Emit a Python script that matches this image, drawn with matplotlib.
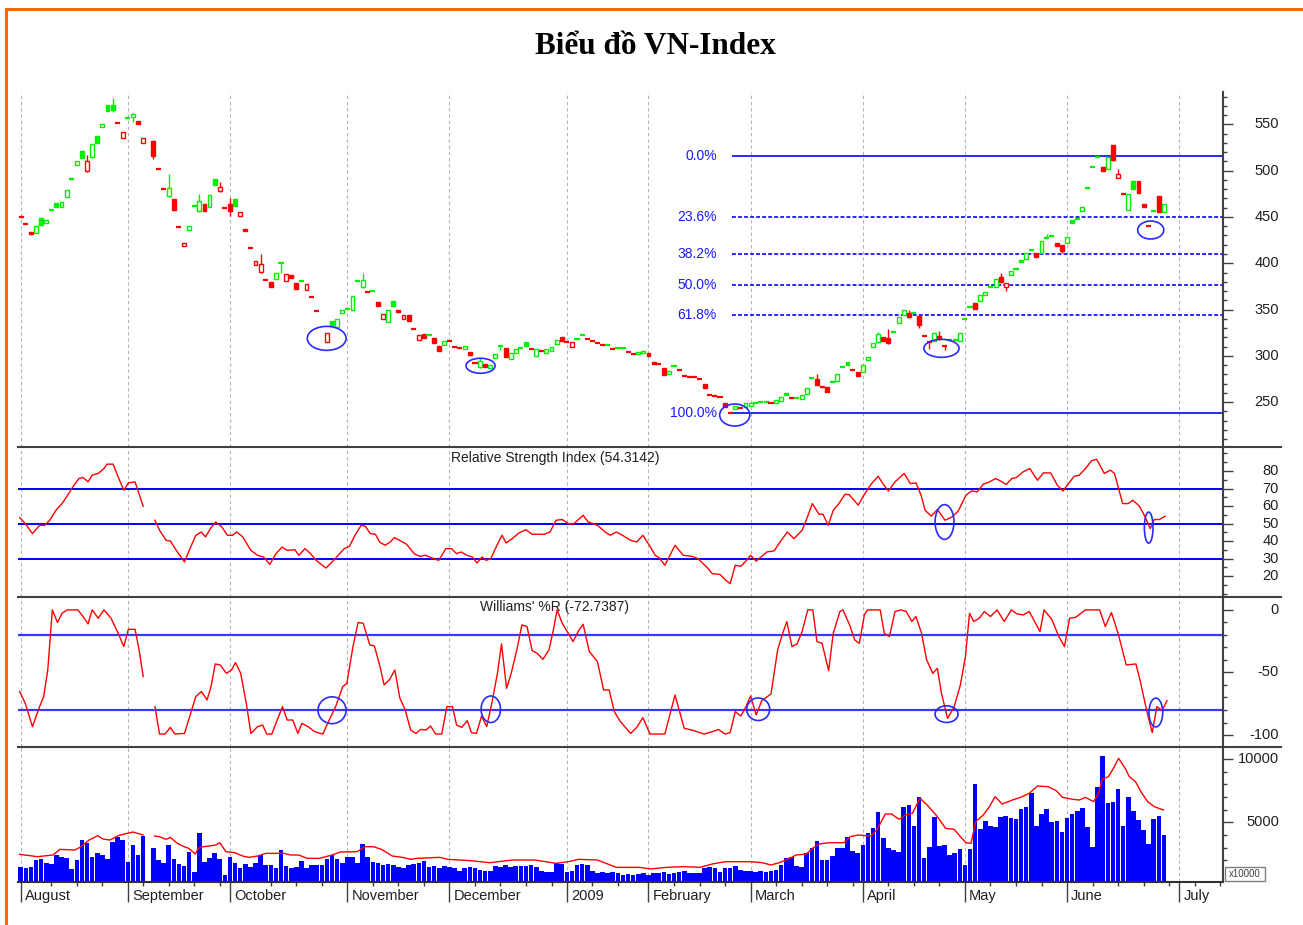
import numpy as np
import matplotlib
matplotlib.use("Agg")
import matplotlib.pyplot as plt
from matplotlib.patches import Ellipse, Rectangle
from matplotlib.lines import Line2D

plt.rcParams['font.family'] = ['Liberation Sans', 'DejaVu Sans']

# ---------------- data (trading-day index from 1 Aug 2008) ----------------
month_names = ['August', 'September', 'October', 'November', 'December', '2009',
               'February', 'March', 'April', 'May', 'June', 'July']
month_start = [0, 21, 41, 64, 84, 107, 123, 143, 165, 185, 205, 227]
week_ticks = [6, 11, 16, 24, 29, 34, 39, 49, 54, 59, 69, 74, 79, 89, 94, 99, 104,
              112, 117, 128, 133, 138, 148, 153, 158, 163, 170, 175, 180, 190, 195,
              200, 210, 215, 220, 225, 230, 235]

opens = [451, 442.5, 433.5, 433, 449, 443, 457, 465.5, 461, 472,
         490.5, 506.5, 521.5, 500, 515, 537, 547, 570.5, 571, 552.5,
         535, 556, 558, 553.5, 530, None, 532, 502, 481, 472.5,
         469, 439.5, 418.5, 435.5, 461.5, 456.7, 464, 461, 491.5, 478,
         460.5, 464, 469, 451, 437.5, 416.5, 398, 391, 382, 379.5,
         382.5, 400, 381, 387, 379, 380.5, 371, 364.5, 349, None,
         315, 338, 331.5, 346, 350, 349.5, 380.5, 374, 369.5, 369.5,
         358.5, 339.5, 337, 359, 350, 339.5, 344.5, 329, 317, 324,
         322.5, 319, 311, 311.5, 316.5, 310.2, 309, 307.6, 304.4, 292.8,
         287.5, 290.7, 286.4, 297.2, 310.7, 308, 296.1, 302.6, 308.8, 315.2,
         307.2, 300, 305.6, 303.3, 305.5, 312.7, 319.9, 315.4, 309.8, 317.5,
         322.2, 317.9, 316.2, 314.3, 311.8, 312, 307.1, 308.5, 308.8, 304.6,
         302.1, 301.9, 302.6, 302.6, 293.6, 290.9, 286.4, 280.3, 288.7, 284.8,
         278.3, 277.7, 277.2, 275.1, 269.1, 257.8, 257.2, 256, 249.3, 238,
         242.1, 243.4, 245, 245.7, 249, 249.5, 251.1, 248.8, 248.6, 251.5,
         260.1, 254.2, 254.6, 252.9, 258.7, 275.4, 274.5, 266.6, 265.9, 271.8,
         272.5, 287.3, 293.6, 284.8, 282.1, 282.8, 295.4, 309.8, 315.2, 320.6,
         319, 325.8, 335, 344, 345.8, 346.3, 343.3, 321.5, 315.4, 316.3,
         321.3, 311.1, 316.8, 318.5, 316.3, 339.1, 352.8, 357.3, 359.5, 365.6,
         374.4, 374.6, 384.7, 374.6, 387.2, 393.1, 403.4, 404.1, 414, 410.6,
         411.3, 426.8, 428.8, 422.1, 419.6, 421.4, 446.6, 447.1, 456.7, 482.6,
         503.3, 514.1, 504.2, 501.3, 527.6, 492.3, 474.5, 457.5, 488.7, 488.7,
         463.9, 440.7, 456.5, 472.5, 455.6]

closes = [450, 442, 431.5, 440, 441.5, 447, 457.5, 460.5, 466, 479,
          491, 510, 513.5, 511, 528.5, 529.5, 550, 564, 566, 552,
          542, 556.5, 561.5, 550, 535, None, 516, 501.5, 480.5, 481.5,
          458, 439, 422, 440.5, 462, 467.5, 457, 473.5, 484.5, 482,
          460, 457, 462, 455.5, 435, 416, 402.5, 399.5, 381.5, 374,
          390, 400.5, 388, 384.5, 372, 381, 377.5, 364, 348.5, None,
          325, 333, 339.5, 349.5, 350.5, 364.5, 381, 382, 369, 370,
          354, 345, 349.5, 354, 347.5, 344, 338, 328.5, 322.5, 319,
          323, 313.5, 305.5, 316.5, 316, 309.8, 308.7, 310.5, 300.8, 292.5,
          294.3, 288.2, 290, 301.5, 310.9, 298.3, 302.6, 306.9, 309, 310.9,
          306.9, 307.5, 305.5, 306.9, 309.8, 317, 316.5, 315.2, 314.5, 317.7,
          322.4, 317.7, 316, 314.1, 311.6, 312.2, 306.9, 308.7, 309, 304.4,
          301.9, 304.4, 305.5, 299.7, 291.1, 290.7, 279.2, 283.9, 288.9, 284.6,
          278.1, 277.5, 277, 274.9, 264.8, 257.6, 257, 255.8, 245, 237.8,
          245.7, 243.2, 248.6, 248.8, 249.3, 250, 250.3, 248.6, 252.2, 255.1,
          257.6, 254, 254.8, 257.6, 264.8, 275.6, 268.4, 267.5, 261.2, 272,
          280.3, 287.5, 290, 284.6, 278.5, 290, 299, 313.4, 323.5, 316.5,
          313.4, 326, 341.5, 349.4, 341.5, 346.5, 333.2, 321.3, 315.2, 324.2,
          317.7, 310.9, 317, 317.5, 324.2, 339.3, 353, 350.1, 365.6, 369.2,
          374.6, 382.5, 379.3, 378.5, 391.9, 393.3, 401.6, 411.3, 414.2, 407,
          424.3, 427, 429, 418.5, 413.5, 428.6, 443.7, 447.3, 460.3, 480.8,
          503.5, 514.3, 499.9, 514.3, 511.4, 495.9, 474.3, 475, 479.7, 475.4,
          460.3, 440.5, 456.7, 455.6, 463.9]

# visible shadows: day -> (low, high)
wicks = {13: (499, 517), 18: (563, 579), 22: (553, 562), 26: (513, 532), 29: (472, 496),
         35: (455, 475), 39: (477, 488), 41: (451, 470), 47: (390, 410), 51: (390, 401),
         67: (373, 390), 90: (287, 298), 94: (306, 311), 156: (268, 280), 168: (314, 326),
         170: (313, 329), 174: (341, 349), 176: (330, 344), 178: (307, 316), 180: (317, 327),
         181: (306, 311), 192: (379, 389), 193: (370, 379), 201: (426, 432), 204: (411, 420),
         214: (511, 528), 215: (492, 502)}

# volume, units of 10000 shares
volume = [1480, 1345, 1480, 2006, 2060, 1794, 1690, 2400, 2218, 2190,
          1266, 2006, 3594, 3382, 2218, 2536, 2403, 2060, 3462, 3859,
          3594, 1874, 3197, 2403, 3912, None, 2932, 2006, 1794, 3197,
          2060, 1690, 1530, 2668, 1080, 4123, 1874, 2139, 2536, 2060,
          815, 2271, 1794, 1345, 1690, 1480, 1794, 2403, 1610, 1610,
          1345, 2800, 1530, 1345, 1480, 1954, 1345, 1610, 1610, 1610,
          2060, 2403, 2060, 1742, 2271, 2218, 1794, 3276, 2218, 1874,
          1794, 1610, 1690, 1610, 1425, 1345, 1610, 1690, 1794, 1954,
          1480, 1530, 1345, 1530, 1425, 1345, 1160, 1345, 1425, 1345,
          1213, 1160, 1133, 1530, 1480, 1610, 1480, 1530, 1530, 1530,
          1610, 1425, 1160, 1080, 1080, 1742, 1690, 1080, 1160, 1610,
          1690, 1610, 1160, 1001, 1080, 948, 1080, 948, 815, 868,
          815, 895, 948, 815, 1001, 948, 1080, 895, 1001, 1080,
          1160, 1001, 948, 1001, 1345, 1480, 1345, 1080, 1345, 1345,
          1530, 1213, 1160, 1160, 1080, 1160, 1080, 1160, 1213, 1610,
          2139, 2218, 1530, 1480, 2536, 2932, 3541, 2006, 2006, 2324,
          2932, 2932, 3806, 2747, 2589, 3197, 4123, 4520, 5843, 3726,
          2932, 2800, 2668, 6240, 6372, 4705, 6981, 2139, 3012, 5393,
          3118, 3197, 2403, 2536, 2853, 1610, 2853, 8039, 4441, 5102,
          4705, 4652, 5393, 5499, 5314, 5235, 6028, 6240, 7298, 4705,
          5658, 6028, 5049, 5102, 4256, 5314, 5658, 5922, 6108, 4600,
          3065, 7828, 10262, 6558, 6637, 7616, 4705, 6981, 5922, 5181,
          4388, 3276, 5235, 5499, 3991]

nan = float('nan')
vol_ma = [(-0.2, 2456), (3.3, 2271), (6.3, 2403), (7.7, 2853), (10.6, 2800), (11.6, 3012),
          (13.4, 3594), (15.1, 3938), (16.1, 3673), (17.5, 3594), (19.1, 3938), (20.3, 4070),
          (22, 4229), (24, 3991), (25, nan), (26.2, 3912), (27.2, 3859), (28.5, 3647),
          (29.3, 3806), (30.7, 3329), (31.7, 3118), (32.9, 2932), (33.7, 2668), (34.2, 2483),
          (34.8, 2932), (35.8, 3065), (37, 3118), (38.2, 3197), (39, 3382), (40.2, 2668),
          (41.9, 2589), (43.5, 2324), (44.7, 2218), (46.4, 2324), (48, 2536), (50.4, 2536),
          (51.6, 2536), (52.9, 2403), (54.5, 2403), (56.1, 2139), (58.5, 2139), (61, 2403),
          (62.6, 2642), (65.9, 2668), (67.5, 3065), (69.1, 3065), (70.7, 2853), (72.8, 2324),
          (74.8, 2218), (76.4, 2060), (77.6, 2139), (82.1, 2218), (83.7, 2060), (88.2, 1954),
          (91.9, 1794), (96.3, 2006), (100.8, 2006), (104.9, 1742), (107.3, 1874),
          (109.3, 2060), (113, 2006), (116.7, 1425), (121.2, 1425), (123.4, 1300),
          (126.6, 1425), (129.8, 1480), (133.1, 1425), (135.5, 1690), (138, 1874),
          (140.4, 1874), (142.9, 1874), (145.3, 1794), (147, 1610), (148.6, 1794),
          (150.3, 2060), (151.9, 2403), (153.9, 2483), (155.1, 2932), (156.4, 3276),
          (158.4, 3382), (161.3, 3382), (162.5, 3859), (164.1, 3991), (166.6, 3912),
          (167.8, 4441), (169.4, 5658), (170.6, 5658), (172.1, 5235), (173.3, 5579),
          (174.7, 5711), (176.2, 6902), (177.6, 6372), (179.5, 5499), (181.2, 4520),
          (182.9, 4441), (184.1, 3859), (185.2, 3382), (186.2, 3329), (187.1, 5049),
          (188.6, 5579), (189.8, 6240), (190.9, 7034), (192.3, 6452), (194.3, 6769),
          (195.9, 6981), (197.6, 7298), (199.2, 7880), (201.3, 7828), (202.9, 7510),
          (204.1, 6981), (206.2, 6822), (207.4, 6769), (208.6, 6981), (210.2, 6637),
          (211.1, 7245), (211.9, 8410), (213.1, 8622), (214.1, 9283), (215.1, 10077),
          (216.4, 9283), (217.2, 8622), (218.4, 8225), (219.6, 7351), (220.8, 6637),
          (222.1, 6240), (223.9, 5976)]

rsi = [(-0.2, 53.4), (0.9, 50), (2.3, 44.3), (3.7, 49), (4.7, 49), (5.7, 51.9), (6.9, 57.6),
       (8.1, 61.4), (9.4, 67.1), (10.2, 70.9), (11.4, 75.7), (12.2, 76.3), (13.2, 73.8),
       (14, 77.6), (15.2, 78.6), (16.3, 81.4), (16.9, 83.9), (18.1, 83.9), (19.1, 76.6),
       (20.2, 69), (21.1, 73.2), (22.4, 73.8), (24, 59.9), (25, nan), (26.3, 51.9),
       (27.2, 46.2), (28.5, 40.4), (29.3, 40.1), (30.7, 33.8), (32.1, 28.1), (33.3, 36.6),
       (34.3, 43.3), (35.4, 45.2), (36.2, 42.4), (37.3, 47.7), (38.2, 50.9), (39.4, 48.1),
       (40.5, 43.3), (41.5, 43.3), (42.3, 45.2), (43.5, 42.4), (45.1, 34.7), (46.4, 31.9),
       (47.6, 30.9), (48.8, 26.7), (50, 32.8), (51.2, 36.6), (52.2, 34.7), (53.7, 35.1),
       (54.5, 31.9), (55.7, 35.7), (56.8, 32.8), (57.9, 29), (59.8, 24.6), (61, 28.1),
       (62.2, 31.9), (63.4, 35.7), (64.4, 37), (65.5, 43.3), (66.7, 49), (67.5, 48.5),
       (68.5, 44.3), (69.5, 43.9), (70.3, 39.5), (71.4, 37.6), (72.4, 39.5), (73.2, 42),
       (74.2, 40.5), (75.6, 38.2), (77.1, 32.8), (78.2, 31.3), (79.3, 31.9), (80.9, 30),
       (81.9, 29), (83.3, 35.7), (84.4, 35.7), (85.4, 32.8), (86.3, 33.8), (87.4, 31.9),
       (88.5, 30.9), (89.4, 27.5), (90.4, 30.9), (91.2, 29), (92.1, 30), (93.1, 36.3),
       (94.3, 43.3), (95.1, 38.9), (96.3, 41.4), (97.6, 44.6), (99, 46.5), (100.2, 43.9),
       (102.6, 43.9), (103.7, 45.2), (104.9, 51.9), (106.1, 52.3), (107.3, 50),
       (108.3, 49.6), (109.1, 51.9), (110.2, 54.7), (111.2, 50.9), (113, 49), (114.5, 45.2),
       (115.5, 43.3), (116.7, 45.2), (117.9, 43.3), (119.5, 40.4), (120.7, 39.5),
       (121.9, 43.3), (123.3, 37), (124.3, 31.9), (125.1, 30.5), (126.2, 26.2),
       (128.2, 37.6), (129.8, 31.9), (131.5, 31.3), (132.7, 30), (134.7, 24.3),
       (135.5, 21.4), (137, 21), (138, 18), (139, 15.7), (140, 26.2), (141.1, 25.6),
       (142.2, 29), (143, 31.9), (144.1, 28.6), (145.2, 31.3), (146.2, 33.8), (147.6, 34.4),
       (149, 40.4), (150.2, 45.2), (151.5, 41.4), (153.1, 46.2), (153.9, 51.9),
       (155.1, 61.4), (156.4, 55.3), (157.2, 55.3), (158.2, 49), (159.2, 57.6), (160.2, 61),
       (161.5, 66.7), (162.3, 66.5), (164.1, 60.5), (165.3, 66.7), (166.7, 72.8), (168, 77),
       (169, 72.4), (170, 68.6), (171.3, 73.8), (173.1, 78.6), (174.3, 72.8), (175.4, 73.2),
       (176.4, 66.2), (177.2, 57.6), (178.4, 54.2), (179.6, 58), (181.1, 51.9),
       (182.5, 53.8), (183.7, 57.2), (185.2, 66.2), (186.3, 68.6), (187.4, 68.1),
       (188.6, 72.5), (189.8, 73.8), (191, 75.7), (191.9, 74.4), (193.1, 72.3),
       (194.2, 75.7), (195.1, 76.3), (196.4, 79.5), (197.7, 81.4), (199.2, 74.7),
       (200.4, 78.9), (201.8, 78.9), (203.1, 71.9), (204.2, 68.6), (205.3, 72.8),
       (206.4, 77), (207.4, 77.6), (208.6, 81.4), (209.8, 85.8), (210.8, 86.7),
       (212.3, 78.6), (213.5, 80.5), (214.3, 78.6), (215.9, 61.4), (217, 61.4),
       (217.9, 63.3), (219.2, 59.9), (220.3, 53.8), (221.3, 47.1), (222.1, 52.3),
       (223.1, 52.3), (224.2, 54.2)]

williams = [(-0.2, -65.3), (0.9, -74.7), (2.3, -93.3), (3.7, -77.3), (4.5, -69.3), (5.3, -48),
            (6.2, 0), (7.2, -10.1), (8.1, -2.7), (9.1, 0), (11.2, 0), (12.2, -5.3),
            (13.2, -11.2), (14, 0), (15.2, -6.7), (16.3, 0), (17.7, -6.7), (19.1, -18.7),
            (20.2, -29.3), (21.1, -15.5), (22.4, -15.5), (23.2, -32), (24, -53.3), (25, nan),
            (26.3, -77.3), (27.2, -99.2), (28.3, -99.2), (29.3, -93.9), (30.2, -99.2),
            (32.1, -98.7), (33.3, -82.7), (34.3, -69.3), (35.4, -65.3), (36.5, -72),
            (37.3, -61.3), (38.1, -43.2), (39.1, -44), (40.3, -50.7), (41.3, -48),
            (42.1, -42.1), (43.1, -50.7), (44.2, -74.7), (45.1, -98.7), (46.4, -93.3),
            (47.4, -92), (48.2, -99.2), (49.2, -99.2), (50.3, -87.5), (51.3, -77.3),
            (52.2, -88), (53.3, -88), (54.3, -98.7), (55.1, -90.7), (56.3, -93.3),
            (57.6, -97.3), (59.2, -99.2), (60.2, -90.1), (61.7, -77.3), (63.1, -61.3),
            (63.9, -58.7), (65.1, -29.3), (66.1, -10.1), (67.1, -10.7), (68.4, -28),
            (69.3, -28.8), (70.4, -45.3), (71.2, -60), (72.3, -55.5), (73.3, -48),
            (74.3, -70.7), (75.3, -79.5), (76.4, -96), (77.4, -98.7), (78.4, -95.5),
            (79.4, -96), (80.3, -92.8), (81.3, -99.2), (82.5, -99.2), (83.5, -77.3),
            (84.6, -77.3), (85.4, -92), (86.4, -93.9), (87.5, -88.5), (88.3, -98.1),
            (89.3, -98.7), (90.3, -84.8), (91.3, -93.3), (92.3, -74.7), (93.4, -50.7),
            (94.2, -27.2), (95.2, -62.7), (96.1, -50.7), (97.2, -32), (98.2, -12),
            (99.2, -13.3), (100.2, -32.5), (101.2, -34.7), (102.3, -39.5), (103.5, -32),
            (104.3, -17.3), (105.1, 0), (106.1, -10.7), (107.2, -18.1), (108.2, -25.3),
            (109.4, -16), (110.2, -11.5), (111.4, -33.3), (113, -41.3), (114.2, -64),
            (115.3, -64), (116.3, -81.3), (117.5, -89.3), (119.5, -98.7), (120.7, -93.9),
            (121.9, -86.1), (123.3, -99.2), (126.2, -99.2), (128.2, -68), (130, -94.7),
            (131.5, -96), (133.9, -99.2), (135.5, -97.3), (136.7, -95.5), (138, -99.2),
            (139, -98.1), (140, -81.3), (141.1, -84.8), (142.1, -77.3), (143, -68.8),
            (144.1, -84), (145.2, -72.5), (147, -67.2), (148.3, -32), (149.3, -18.7),
            (150.1, -9.3), (151.1, -29.3), (152.1, -27.2), (153.1, -17.3), (154.2, 0),
            (155.2, 0), (156, -25.3), (157, -26.7), (158.3, -48.5), (159.2, -18.7),
            (160.5, -1.3), (161.1, 0), (162.4, -12), (163.4, -24), (164.3, -26.7),
            (165.3, -4), (165.9, 0), (168.4, 0), (169.2, -18.7), (170.2, -21.3),
            (171.3, -1.3), (172.5, 0), (173.5, -1.3), (174.6, -9.3), (175.4, -5.3),
            (176.5, -18.7), (177.5, -40), (178.7, -50.7), (179.6, -46.7), (180.4, -66.7),
            (181.6, -86.7), (182.9, -77.3), (184.1, -60), (185.1, -37.3), (185.9, -2.7),
            (186.7, -9.3), (187.8, -6.7), (188.8, -1.3), (190, -5.3), (191.3, 0),
            (192.7, -9.3), (194.1, 0), (195.2, -3.2), (196.4, -4), (197.6, -1.3),
            (199.7, -17.3), (200.5, 0), (202, -7.5), (203.4, -21.3), (204.5, -29.3),
            (205.5, -6.7), (206.7, -5.9), (208.6, 0), (211.4, 0), (212.5, -13.3),
            (213.7, -2.1), (215, -18.7), (216.6, -44), (218.5, -43.2), (219.3, -56),
            (220.7, -82.1), (221.7, -98.1), (222.6, -77.3), (223.6, -80.5), (224.6, -72.5)]

rsi_value, wr_value = '54.3142', '-72.7387'
fib_high, fib_low, fib_from = 515.8, 238.0, 139.3
fib_ratios = [0.0, 23.6, 38.2, 50.0, 61.8, 100.0]

# hand-drawn highlight ellipses: panel, day, value, width (days), height (units)
circled = [('price', 59.95, 318.9, 7.6, 25.9), ('price', 90.1, 289.3, 5.7, 16.2),
           ('price', 139.9, 236.1, 5.9, 23.8), ('price', 180.4, 308.1, 6.9, 19.4),
           ('price', 221.4, 435.9, 5.1, 19.4), ('rsi', 181, 50.9, 3.7, 19.8),
           ('rsi', 221, 47.7, 1.7, 17.7), ('wr', 61, -80.2, 5.5, 21.4),
           ('wr', 92.1, -79.4, 3.8, 21.2), ('wr', 144.5, -79.4, 4.5, 18),
           ('wr', 181.4, -83.3, 4.5, 13.3), ('wr', 222.4, -82, 2.7, 23)]

# ---------------- layout ----------------
W, H = 1303, 925
L, R = 18, 1223
GREEN, RED, BLUE = '#00f000', '#ff0000', '#0000ff'
AXC = '#404040'

fig = plt.figure(figsize=(W / 100, H / 100), dpi=100)


def panel(top, bottom):
    ax = fig.add_axes([L / W, 1 - bottom / H, (R - L) / W, (bottom - top) / H])
    ax.set_xlim(-0.53, 235.56)
    for s in ax.spines.values():
        s.set_visible(False)
    ax.tick_params(axis='x', which='both', bottom=False, labelbottom=False)
    ax.yaxis.tick_right()
    ax.tick_params(axis='y', which='major', length=7, width=1, color=AXC,
                   labelright=False, labelleft=False)
    ax.tick_params(axis='y', which='minor', length=3, width=1, color=AXC)
    for m in month_start:
        ax.axvline(m, color='#b4b4b4', lw=0.8, ls=(0, (3.0, 2.6)), zorder=0)
    return ax


def right_labels(ax, values):
    for v in values:
        ax.text(1 + 56 / (R - L), v, str(v), transform=ax.get_yaxis_transform(),
                ha='right', va='center', fontsize=10.5, color='#202020')


ax_p = panel(92, 447.5)
ax_r = panel(447.5, 597)
ax_w = panel(597, 747.3)
ax_v = panel(747.3, 881.7)
axes = {'price': ax_p, 'rsi': ax_r, 'wr': ax_w}

# ---- price candles ----
ax_p.set_ylim(201, 585)
ax_p.set_yticks(range(250, 551, 50))
ax_p.set_yticks(range(210, 581, 10), minor=True)
right_labels(ax_p, range(250, 551, 50))

prev = None
for i, (o, c) in enumerate(zip(opens, closes)):
    if o is None:
        continue
    col = GREEN if c > (o if prev is None else prev) else RED
    prev = c
    if i in wicks:
        ax_p.vlines(i, *wicks[i], color=col, lw=1, zorder=3)
    if abs(c - o) < 0.6:
        ax_p.hlines(c, i - 0.5, i + 0.5, color=col, lw=1.6, zorder=4)
    else:
        ax_p.add_patch(Rectangle((i - 0.38, min(o, c)), 0.76, abs(c - o),
                                 facecolor=col if c < o else 'white',
                                 edgecolor=col, lw=1.0, zorder=4))

for r in fib_ratios:
    lvl = fib_high - r / 100 * (fib_high - fib_low)
    ls = '-' if r in (0.0, 100.0) else (0, (2.0, 1.1))
    ax_p.hlines(lvl, fib_from, 240, color='#2828ff', lw=1.4, ls=ls, zorder=2)
    ax_p.text(136.4, lvl, f'{r:.1f}%', ha='right', va='center', color='#1a1aff',
              fontsize=10)

# ---- RSI ----
ax_r.set_ylim(8.1, 93.4)
ax_r.set_yticks(range(20, 81, 10))
ax_r.set_yticks(range(10, 91, 5), minor=True)
right_labels(ax_r, range(20, 81, 10))
for lvl in (30, 50, 70):
    ax_r.axhline(lvl, color=BLUE, lw=1.4, zorder=1)
d, v = zip(*rsi)
ax_r.plot(d, v, color=RED, lw=1, zorder=3)
fig.text(555 / W, 1 - 458 / H, f'Relative Strength Index ({rsi_value})',
         ha='center', va='center', fontsize=10, color='#202020')

# ---- Williams %R ----
ax_w.set_ylim(-109.8, 10.3)
ax_w.set_yticks([-100, -50, 0])
ax_w.set_yticks(range(-100, 1, 10), minor=True)
right_labels(ax_w, [0, -50, -100])
for lvl in (-20, -80):
    ax_w.axhline(lvl, color='#3838ff', lw=1.6, zorder=1)
d, v = zip(*williams)
ax_w.plot(d, v, color=RED, lw=1, zorder=3)
fig.text(554 / W, 1 - 607 / H, f"Williams' %R ({wr_value})",
         ha='center', va='center', fontsize=10, color='#202020')

for key, x, y, w, h in circled:
    axes[key].add_patch(Ellipse((x, y), w, h, fill=False, edgecolor='#2a2aff',
                                lw=1.2, zorder=6))

# ---- volume ----
ax_v.set_ylim(286, 10952)
ax_v.set_yticks([5000, 10000])
ax_v.set_yticks(range(2000, 10001, 1000), minor=True)
right_labels(ax_v, [5000, 10000])
days = [i for i, x in enumerate(volume) if x is not None]
ax_v.bar(days, [volume[i] for i in days], width=0.9, color=BLUE, zorder=2)
d, v = zip(*vol_ma)
ax_v.plot(d, v, color=RED, lw=1, zorder=3)

ax_v.spines['bottom'].set_visible(True)
ax_v.spines['bottom'].set_color('#303030')
ax_v.spines['bottom'].set_linewidth(1.5)
ax_v.set_xticks(month_start)
ax_v.set_xticks(week_ticks, minor=True)
ax_v.tick_params(axis='x', which='major', bottom=True, length=14.4, width=1, color=AXC)
ax_v.tick_params(axis='x', which='minor', bottom=True, length=3, width=1, color=AXC)
for name, m in zip(month_names, month_start):
    ax_v.annotate(name, xy=(m, 0), xycoords=('data', 'axes fraction'),
                  xytext=(3, -10), textcoords='offset points',
                  ha='left', va='center', fontsize=10.5, color='#202020')

# multiplier box
fig.add_artist(Rectangle((1225 / W, 1 - 880.7 / H), 40 / W, 14 / H,
                         facecolor='white', edgecolor='#808080', lw=1,
                         transform=fig.transFigure))
fig.text(1245 / W, 1 - 873.7 / H, 'x10000', ha='center', va='center',
         fontsize=7, color='#404040')

# panel separators and value axis
for y in (447.5, 597, 747.3):
    fig.add_artist(Line2D([L / W, 1281 / W], [1 - y / H] * 2, color=AXC, lw=1.5))
fig.add_artist(Line2D([R / W] * 2, [1 - 92 / H, 1 - 881.7 / H], color=AXC, lw=1.5))

# orange frame
fig.add_artist(Line2D([6 / W, 6 / W], [1 - 9 / H, 0], color='#ff6600', lw=2.2))
fig.add_artist(Line2D([6 / W, 1], [1 - 9 / H] * 2, color='#ff6600', lw=2.2))

fig.text(655 / W, 1 - 54 / H, 'Biểu đồ VN-Index', ha='center', va='baseline',
         fontsize=22.5, fontweight='bold', family=['Liberation Serif', 'DejaVu Serif'])

fig.savefig('out.png', dpi=100)
